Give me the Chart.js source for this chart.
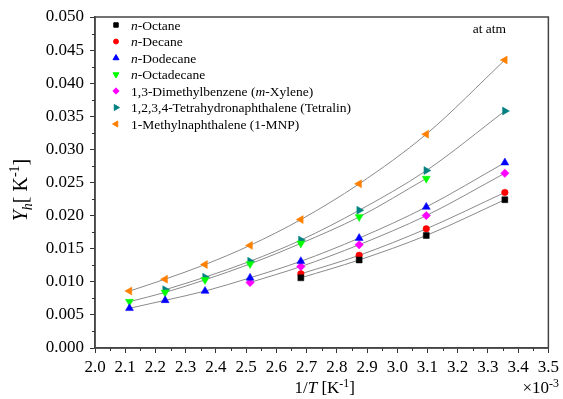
<!DOCTYPE html>
<html>
<head>
<meta charset="utf-8">
<script src="https://cdn.jsdelivr.net/npm/chart.js@4.4.1/dist/chart.umd.min.js"></script>
<style>
  html, body { margin: 0; padding: 0; background: #fff; }
  canvas { display: block; }
</style>
</head>
<body>
<canvas id="chart" width="563" height="399"></canvas>
<script>
// 1/T values, x 10^-3 K^-1 (T = 473 ... 298 K)
const invT = [2.114, 2.232, 2.364, 2.513, 2.681, 2.874, 3.096, 3.356];

// Y_h values per fluid, null = not measured
const octane      = [null, null, null, null, 0.0106, 0.0133, 0.0170, 0.0224];
const decane      = [null, null, null, null, 0.0112, 0.0140, 0.0180, 0.0235];
const dodecane    = [0.0060, 0.0072, 0.0086, 0.0106, 0.0131, 0.0166, 0.0213, 0.0280];
const octadecane  = [0.0070, 0.0084, 0.0103, 0.0127, 0.0158, 0.0198, 0.0256, null];
const mXylene     = [null, null, null, 0.0099, 0.0123, 0.0156, 0.0200, 0.0264];
const tetralin    = [null, 0.0088, 0.0107, 0.0131, 0.0163, 0.0208, 0.0268, 0.0358];
const mnp         = [0.0086, 0.0104, 0.0126, 0.0155, 0.0194, 0.0248, 0.0323, 0.0435];

// legend labels, [text, italic]
const labels = [
  [['n', true], ['-Octane', false]],
  [['n', true], ['-Decane', false]],
  [['n', true], ['-Dodecane', false]],
  [['n', true], ['-Octadecane', false]],
  [['1,3-Dimethylbenzene (', false], ['m', true], ['-Xylene)', false]],
  [['1,2,3,4-Tetrahydronaphthalene (Tetralin)', false]],
  [['1-Methylnaphthalene (1-MNP)', false]]
];

const xMin = 2.0, xMax = 3.5, xStep = 0.1;
const yMin = 0, yMax = 0.05, yStep = 0.005;

const FONT = '"Liberation Serif", "Times New Roman", serif';

const styles = [
  { color: '#000000', pointStyle: 'rect', rotation: 0, radius: 4.2 },
  { color: '#ff0000', pointStyle: 'circle', rotation: 0, radius: 3.3 },
  { color: '#0000ff', pointStyle: 'triangle', rotation: 0, radius: 4.6 },
  { color: '#00ff00', pointStyle: 'triangle', rotation: 180, radius: 4.6 },
  { color: '#ff00ff', pointStyle: 'rectRot', rotation: 0, radius: 4.2 },
  { color: '#008080', pointStyle: 'triangle', rotation: 90, radius: 4.6 },
  { color: '#ff8000', pointStyle: 'triangle', rotation: 270, radius: 4.6 }
];

const series = [octane, decane, dodecane, octadecane, mXylene, tetralin, mnp];

function toPoints(vals) {
  const pts = [];
  vals.forEach((v, i) => { if (v !== null) pts.push({ x: invT[i], y: v }); });
  return pts;
}

const datasets = series.map((vals, i) => ({
  label: labels[i].map(p => p[0]).join(''),
  data: toPoints(vals),
  showLine: true,
  borderColor: '#8a8a8a',
  borderWidth: 1,
  cubicInterpolationMode: 'monotone',
  pointStyle: styles[i].pointStyle,
  pointRotation: styles[i].rotation,
  pointRadius: styles[i].radius,
  pointBackgroundColor: styles[i].color,
  pointBorderColor: styles[i].color,
  pointBorderWidth: 0.5
}));

// draw a run of text parts: {t, i (italic), sub, sup}
function drawRich(ctx, parts, x, y, size, align) {
  const fontOf = p => {
    const s = (p.sub || p.sup) ? size * 0.7 : size;
    return (p.i ? 'italic ' : '') + s + 'px ' + FONT;
  };
  let total = 0;
  parts.forEach(p => { ctx.font = fontOf(p); total += ctx.measureText(p.t).width; });
  let cx = align === 'center' ? x - total / 2 : align === 'right' ? x - total : x;
  ctx.textAlign = 'left';
  ctx.textBaseline = 'alphabetic';
  parts.forEach(p => {
    ctx.font = fontOf(p);
    let dy = 0;
    if (p.sub) dy = size * 0.25;
    if (p.sup) dy = -size * 0.38;
    ctx.fillText(p.t, cx, y + dy);
    cx += ctx.measureText(p.t).width;
  });
}

const decorPlugin = {
  id: 'decor',
  afterDraw(chart) {
    const ctx = chart.ctx;
    const a = chart.chartArea;
    const xs = chart.scales.x, ys = chart.scales.y;
    ctx.save();

    // frame
    ctx.strokeStyle = '#444';
    ctx.lineWidth = 1.5;
    ctx.strokeRect(a.left, a.top, a.right - a.left, a.bottom - a.top);

    // minor ticks
    ctx.lineWidth = 1;
    ctx.strokeStyle = '#333';
    ctx.beginPath();
    for (let v = xMin + xStep / 2; v < xMax; v += xStep) {
      const px = Math.round(xs.getPixelForValue(v)) + 0.5;
      ctx.moveTo(px, a.bottom);
      ctx.lineTo(px, a.bottom + 3);
    }
    for (let v = yMin + yStep / 2; v < yMax; v += yStep) {
      const py = Math.round(ys.getPixelForValue(v)) + 0.5;
      ctx.moveTo(a.left, py);
      ctx.lineTo(a.left - 3, py);
    }
    ctx.stroke();

    ctx.fillStyle = '#000';

    // legend
    const lx = 116, tx = 131, ly0 = 25, dy = 16.5;
    labels.forEach((lab, i) => {
      const y = ly0 + i * dy;
      ctx.fillStyle = styles[i].color;
      ctx.strokeStyle = styles[i].color;
      Chart.helpers.drawPoint(ctx, {
        pointStyle: styles[i].pointStyle,
        rotation: styles[i].rotation,
        radius: styles[i].radius * 0.75,
        borderWidth: 0.5
      }, lx, y);
      ctx.fillStyle = '#000';
      drawRich(ctx, lab.map(p => ({ t: p[0], i: p[1] })), tx, y + 4.5, 13.5, 'left');
    });

    // annotation
    drawRich(ctx, [{ t: 'at atm' }], 506, 33, 13.5, 'right');

    // x title and multiplier
    drawRich(ctx, [
      { t: '1/' }, { t: 'T', i: true }, { t: ' [K' }, { t: '-1', sup: true }, { t: ']' }
    ], (a.left + a.right) / 2 + 3, 393, 17, 'center');
    drawRich(ctx, [{ t: '\u00d710' }, { t: '-3', sup: true }], 559, 393, 17, 'right');

    // y title
    ctx.translate(21, 190);
    ctx.rotate(-Math.PI / 2);
    drawRich(ctx, [
      { t: 'Y', i: true }, { t: 'h', i: true, sub: true }, { t: '[ K' }, { t: '-1', sup: true }, { t: ']' }
    ], 0, 6, 20, 'center');

    ctx.restore();
  }
};

new Chart(document.getElementById('chart'), {
  type: 'scatter',
  data: { datasets },
  options: {
    responsive: false,
    animation: false,
    layout: { padding: { left: 0, right: 13, top: 17, bottom: 0 } },
    plugins: { legend: { display: false }, tooltip: { enabled: false } },
    scales: {
      x: {
        type: 'linear',
        min: xMin, max: xMax,
        afterFit: s => { s.height = 51; },
        ticks: {
          stepSize: xStep,
          color: '#000',
          font: { family: FONT, size: 17 },
          padding: 4,
          maxRotation: 0,
          autoSkip: false,
          callback: v => v.toFixed(1)
        },
        grid: { drawOnChartArea: false, drawTicks: true, tickLength: 5, tickColor: '#333' },
        border: { display: true, color: '#444', width: 1.5 }
      },
      y: {
        type: 'linear',
        min: yMin, max: yMax,
        afterFit: s => { s.width = 95; },
        ticks: {
          stepSize: yStep,
          color: '#000',
          font: { family: FONT, size: 17 },
          padding: 6,
          autoSkip: false,
          callback: v => v.toFixed(3)
        },
        grid: { drawOnChartArea: false, drawTicks: true, tickLength: 5, tickColor: '#333' },
        border: { display: true, color: '#444', width: 1.5 }
      }
    }
  },
  plugins: [decorPlugin]
});
</script>
</body>
</html>
